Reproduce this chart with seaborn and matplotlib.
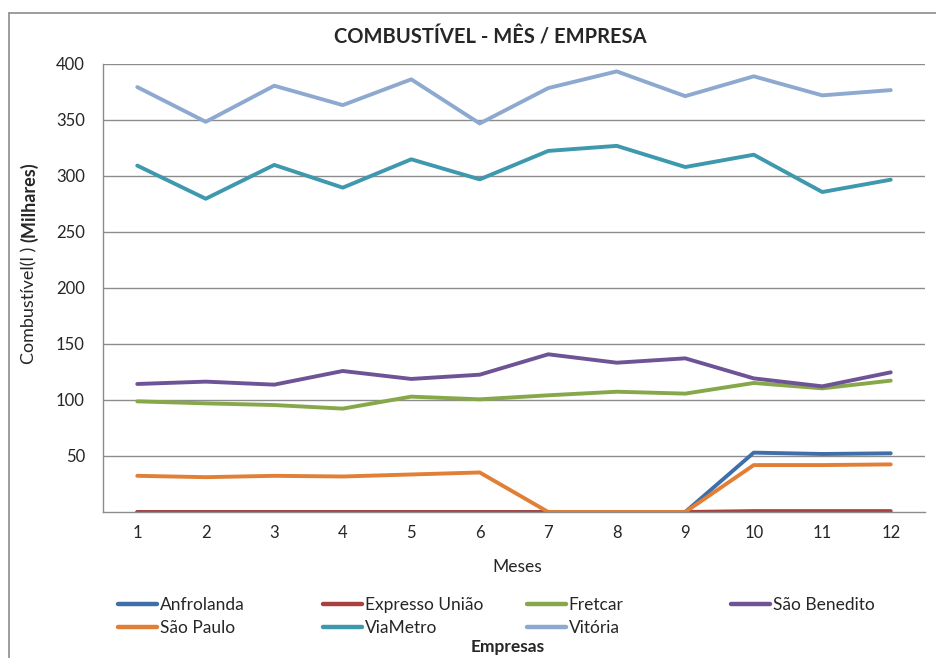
import matplotlib
matplotlib.use('Agg')
import matplotlib.pyplot as plt
from matplotlib.lines import Line2D
import seaborn as sns
import pandas as pd

meses = list(range(1, 13))
anfrolanda = [0, 0, 0, 0, 0, 0, 0, 0, 0, 53, 51.8, 52.4]
expresso_uniao = [0, 0, 0, 0, 0, 0, 0, 0, 0, 0.8, 0.8, 0.8]
fretcar = [98.8, 97, 95.5, 92.3, 103, 100.6, 104.2, 107.4, 105.7, 115.2, 110.4, 117.3]
sao_benedito = [114.3, 116.4, 113.7, 125.9, 118.8, 122.6, 140.8, 133.3, 137.2, 119.3, 112.2, 124.7]
sao_paulo = [32.3, 31.1, 32.3, 31.7, 33.5, 35.3, 0, 0, 0, 41.9, 41.9, 42.5]
viametro = [309.3, 279.7, 309.9, 289.6, 314.9, 297, 322.4, 326.9, 308, 319, 285.7, 296.7]
vitoria = [379.4, 348.4, 380.6, 363.3, 386.3, 346.9, 378.5, 393.4, 371.3, 389, 372, 376.7]

empresas = ['Anfrolanda', 'Expresso União', 'Fretcar', 'São Benedito',
            'São Paulo', 'ViaMetro', 'Vitória']
series = [anfrolanda, expresso_uniao, fretcar, sao_benedito, sao_paulo, viametro, vitoria]
cores = ['#3F6FA8', '#A8413E', '#87A84A', '#6E5496', '#E07F35', '#3E98AE', '#8EA9D0']

rows = []
for nome, vals in zip(empresas, series):
    for m, v in zip(meses, vals):
        rows.append({'Mes': m, 'Empresa': nome, 'Valor': v})
df = pd.DataFrame(rows)

sns.set_style('white')
plt.rcParams['font.family'] = ['Lato', 'DejaVu Sans']

fig = plt.figure(figsize=(9.36, 6.58), dpi=100)
W, H = 936, 658
ax = fig.add_axes([103 / W, 1 - 512 / H, (925 - 103) / W, (512 - 64) / H])

sns.lineplot(data=df, x='Mes', y='Valor', hue='Empresa', hue_order=empresas,
             palette=dict(zip(empresas, cores)), linewidth=2.8, ax=ax,
             legend=False, solid_capstyle='round')

ax.set_xlim(0.5, 12.5)
ax.set_ylim(0, 400)
ax.set_xticks(meses)
ax.set_xticks([m + 0.5 for m in [0] + meses], minor=True)
ax.set_yticks([50, 100, 150, 200, 250, 300, 350, 400])
ax.tick_params(axis='x', which='major', length=0, pad=9, labelsize=12)
ax.tick_params(axis='x', which='minor', length=5, width=1, color='#8c8c8c', direction='out')
ax.tick_params(axis='y', length=0, pad=13, labelsize=12)
ax.grid(axis='y', color='#8c8c8c', linewidth=1)
ax.set_axisbelow(True)
for s in ['top', 'right']:
    ax.spines[s].set_visible(False)
for s in ['left', 'bottom']:
    ax.spines[s].set_color('#8c8c8c')
    ax.spines[s].set_linewidth(1)
ax.set_xlabel('')
ax.set_ylabel('')

# moldura do gráfico
fig.add_artist(Line2D([9 / W, 9 / W], [0, 1 - 13 / H], transform=fig.transFigure,
                      color='#8c8c8c', linewidth=1.2))
fig.add_artist(Line2D([9 / W, 1], [1 - 13 / H, 1 - 13 / H], transform=fig.transFigure,
                      color='#8c8c8c', linewidth=1.2))

fig.text(490 / W, 1 - 37 / H, 'COMBUSTÍVEL - MÊS / EMPRESA', ha='center', va='center',
         fontsize=14.5, fontweight='bold')
fig.text(517 / W, 1 - 567 / H, 'Meses', ha='center', va='center', fontsize=12.5)
fig.text(508 / W, 1 - 647 / H, 'Empresas', ha='center', va='center', fontsize=12.5,
         fontweight='bold')

t1 = fig.text(29 / W, 1 - 364 / H, 'Combustível(l ) ', rotation=90, ha='center',
              va='bottom', fontsize=13)
fig.canvas.draw()
bb = t1.get_window_extent()
fig.text(29 / W, bb.y1 / fig.bbox.height, '(Milhares)', rotation=90, ha='center',
         va='bottom', fontsize=13, fontweight='bold')

# legenda em 4 colunas
colunas = [[0, 4], [1, 5], [2, 6], [3]]
xs = [118, 323, 527, 731]
for idx, x0 in zip(colunas, xs):
    handles = [Line2D([], [], color=cores[i], linewidth=3.2) for i in idx]
    labels = [empresas[i] for i in idx]
    fig.legend(handles, labels, loc='upper left', bbox_to_anchor=(x0 / W, 1 - 597 / H),
               frameon=False, fontsize=12.5, handlelength=2.25, handletextpad=0.15,
               borderpad=0, borderaxespad=0, labelspacing=0.38)

fig.savefig('out.png', dpi=100)
